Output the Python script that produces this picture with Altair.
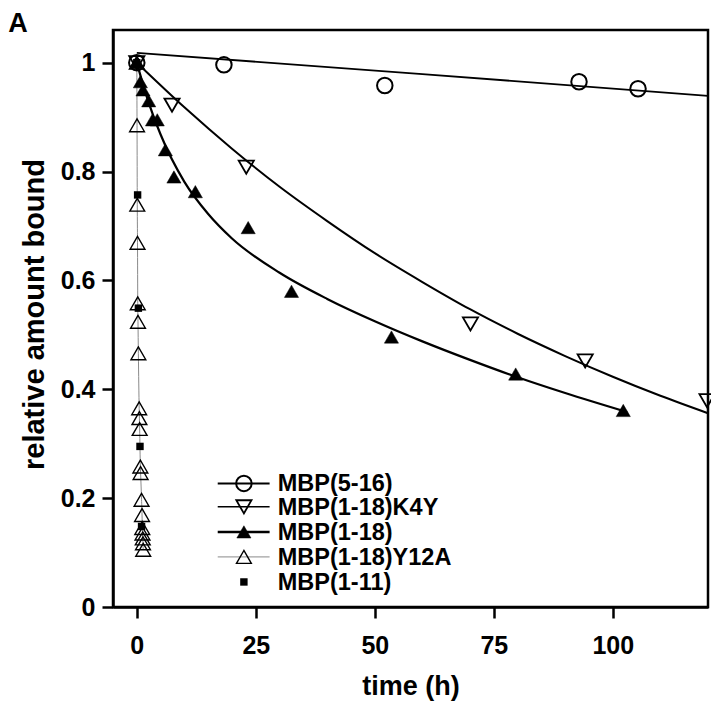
import altair as alt
import pandas as pd

FONT = "Liberation Sans"

# ---- data ----
circ_t = [0, 18.3, 52.1, 92.9, 105.3]
circ_v = [1.0, 0.996, 0.958, 0.965, 0.952]

k4y_t = [0, 7.4, 23.0, 70.1, 94.2, 119.8]
k4y_v = [1.0, 0.922, 0.808, 0.520, 0.452, 0.379]

m118_t = [0, 0.75, 1.3, 2.5, 3.3, 4.3, 6.0, 7.8, 12.3, 23.4, 32.5, 53.5, 79.6, 102.2]
m118_v = [1.0, 0.965, 0.95, 0.93, 0.895, 0.895, 0.84, 0.79, 0.763, 0.697, 0.580, 0.496, 0.428, 0.361]

y12a_t = [0, 0.05, 0.1, 0.15, 0.2, 0.25, 0.33, 0.5, 0.55, 0.6, 0.75, 0.8, 1.0, 1.1, 1.15, 1.2, 1.25, 1.3, 1.35]
y12a_v = [1.0, 0.885, 0.739, 0.669, 0.558, 0.524, 0.466, 0.365, 0.347, 0.327, 0.258, 0.246, 0.197, 0.169, 0.145, 0.135, 0.126, 0.117, 0.105]

m111_t = [0, 0.17, 0.33, 0.67, 1.0]
m111_v = [1.0, 0.757, 0.549, 0.295, 0.148]

# fitted curves
fit_circ_t = [0, 60, 120]
fit_circ_v = [1.018, 0.979, 0.939]

fit_k4y_t = [0, 10, 20, 30, 40, 50, 60, 70, 80, 90, 100, 110, 120]
fit_k4y_v = [1.0, 0.918, 0.842, 0.772, 0.709, 0.650, 0.597, 0.547, 0.502, 0.461, 0.423, 0.388, 0.356]

fit_118_t = [0, 2, 5, 10, 15, 20, 30, 40, 50, 60, 70, 80, 90, 103]
fit_118_v = [1.0, 0.940, 0.868, 0.781, 0.722, 0.677, 0.614, 0.566, 0.525, 0.488, 0.454, 0.422, 0.393, 0.358]

legend_labels = ["MBP(5-16)", "MBP(1-18)K4Y", "MBP(1-18)", "MBP(1-18)Y12A", "MBP(1-11)"]

# ---- helpers ----
def frame(t, v):
    return pd.DataFrame({"t": t, "v": v})

xs = alt.Scale(domain=[-5, 120], nice=False, zero=False)
ys = alt.Scale(domain=[0, 1.06], nice=False, zero=False)
X = alt.X("t:Q", scale=xs, axis=alt.Axis(
    values=[0, 25, 50, 75, 100], title="time (h)", labelPadding=15,
    titlePadding=15, labelFlush=False, labelOverlap=False))
Y = alt.Y("v:Q", scale=ys, axis=alt.Axis(
    values=[0, 0.2, 0.4, 0.6, 0.8, 1.0], title="relative amount bound",
    labelExpr="datum.value == 0 ? '0' : (datum.value == 1 ? '1' : format(datum.value, '.1f'))",
    labelPadding=7, titlePadding=11, titleFontSize=29, titleY=284,
    labelFlush=False, labelOverlap=False))

def line(t, v, width, color="black"):
    return alt.Chart(frame(t, v)).mark_line(
        color=color, strokeWidth=width, interpolate="monotone").encode(x=X, y=Y)

def pts(t, v, shape, size, fill, sw=1.8):
    return alt.Chart(frame(t, v)).mark_point(
        shape=shape, size=size, filled=True, fill=fill, stroke="black",
        strokeWidth=sw, opacity=1).encode(x=X, y=Y)

layers = [
    line(y12a_t, y12a_v, 1, "#8a8a8a"),
    line(fit_circ_t, fit_circ_v, 1.8),
    line(fit_k4y_t, fit_k4y_v, 2),
    line(fit_118_t, fit_118_v, 2.2),
    pts(y12a_t, y12a_v, "triangle-up", 220, "transparent", 1.4),
    pts(m111_t, m111_v, "square", 55, "black", 0),
    pts(m118_t, m118_v, "triangle-up", 200, "black", 0.5),
    pts(k4y_t, k4y_v, "triangle-down", 230, "transparent", 1.8),
    pts(circ_t, circ_v, "circle", 240, "transparent", 2),
]

# ---- legend (drawn inside the plot) ----
leg_rows = [0.227, 0.184, 0.138, 0.092, 0.046]
leg_x1, leg_x2, leg_sym, leg_txt = 17.0, 27.9, 22.5, 29.6
leg_line_w = [2, 1.5, 2.5, 1]
leg_line_c = ["black", "black", "black", "#8a8a8a"]
leg_shapes = ["circle", "triangle-down", "triangle-up", "triangle-up", "square"]
leg_sizes = [240, 230, 200, 220, 55]
leg_fills = ["transparent", "transparent", "black", "transparent", "black"]
leg_sw = [2, 1.8, 0.5, 1.4, 0]

for i in range(4):
    d = pd.DataFrame({"t": [leg_x1], "t2": [leg_x2], "v": [leg_rows[i]]})
    layers.append(alt.Chart(d).mark_rule(
        color=leg_line_c[i], strokeWidth=leg_line_w[i]).encode(
        x=alt.X("t:Q", scale=xs), x2="t2:Q", y=alt.Y("v:Q", scale=ys)))
for i in range(5):
    layers.append(pts([leg_sym], [leg_rows[i]], leg_shapes[i], leg_sizes[i],
                      leg_fills[i], leg_sw[i]))

leg_df = pd.DataFrame({"t": [leg_txt] * 5, "v": leg_rows, "lab": legend_labels})
layers.append(alt.Chart(leg_df).mark_text(
    align="left", baseline="middle", font=FONT, fontSize=23.5,
    fontWeight="bold", color="black", dy=1).encode(x=X, y=Y, text="lab:N"))

# panel letter
layers.append(alt.Chart(pd.DataFrame({"lab": ["A"]})).mark_text(
    font=FONT, fontSize=27, fontWeight="bold", color="black",
    align="center", baseline="alphabetic").encode(
    text="lab:N", x=alt.value(-95), y=alt.value(2)))

chart = alt.layer(*layers).properties(
    width=595, height=577,
    autosize=alt.AutoSizeParams(type="none"),
    padding={"left": 105, "top": 22, "right": 3, "bottom": 95},
    background="white",
).configure_axis(
    domainColor="black", domainWidth=2.5, tickColor="black", tickWidth=2.5,
    tickSize=11, grid=False, labelFont=FONT, labelFontSize=25,
    labelFontWeight="bold", labelColor="black", titleFont=FONT,
    titleFontSize=27, titleFontWeight="bold", titleColor="black",
).configure_view(stroke="black", strokeWidth=2.5)

chart.save("out.html", embed_options={"renderer": "svg", "actions": False})
